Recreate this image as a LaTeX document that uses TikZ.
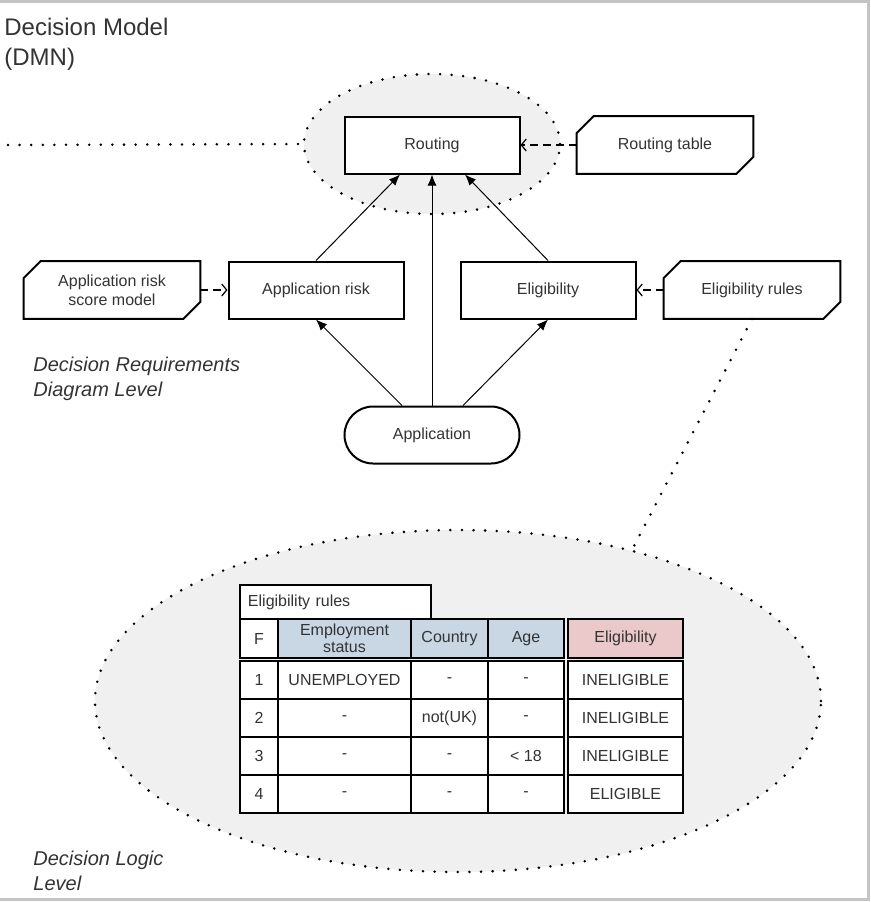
\documentclass[tikz,border=0pt]{standalone}
\usepackage{fontspec}
\setmainfont{Liberation Sans}
\usetikzlibrary{positioning,shapes.geometric,calc,arrows.meta}

\definecolor{lvlfill}{HTML}{F0F0F0}
\definecolor{inhead}{HTML}{C9D7E5}
\definecolor{outhead}{HTML}{EBC9CA}
\definecolor{txt}{HTML}{333333}
\definecolor{framegray}{HTML}{C4C4C4}

\tikzset{
  decision/.style={draw,line width=1pt,fill=white,minimum width=87.5pt,minimum height=28.5pt,inner sep=0pt,font=\fontsize{8}{9.6}\selectfont,text=txt,align=center},
  knowledge/.style={minimum width=88pt,minimum height=28.5pt,inner sep=0pt,font=\fontsize{8}{9.6}\selectfont,text=txt,align=center},
  inputdata/.style={decision,rounded corners=14.25pt},
  req/.style={-{Latex[length=5.5pt,width=4.5pt]},line width=0.5pt},
  kreq/.style={-{Straight Barb[length=2.5pt,width=6pt]},dash pattern=on 4pt off 2.5pt,line width=0.6pt},
  level/.style={draw,ellipse,fill=lvlfill,line width=1.4pt,line cap=round,dash pattern=on 0pt off 5.8pt,inner sep=0pt},
  dotline/.style={line width=1.4pt,line cap=round,dash pattern=on 0pt off 5.8pt},
  cell/.style={draw,line width=0.8pt,fill=white,minimum height=19pt,inner sep=0pt,font=\fontsize{8}{8.5}\selectfont,text=txt,align=center},
  levellabel/.style={anchor=north west,inner sep=0pt,align=left,text=txt,font=\fontsize{10}{12.5}\selectfont\itshape}
}

\begin{document}
\begin{tikzpicture}[x=0.5pt,y=-0.5pt,node distance=72.5pt]
    \useasboundingbox (0,0) rectangle (871,902);
    \draw[framegray,line width=1.5pt] (0,1) -- (868,1) -- (868,899) -- (0,899);

    \node[anchor=north west,inner sep=0pt,align=left,text=txt,font=\fontsize{12}{15}\selectfont] (title) at (4,18) {Decision Model\\(DMN)};

    % levels
    \node[level,minimum width=128pt,minimum height=70pt] (drl) at (432,144) {};
    \node[level,minimum width=363pt,minimum height=171pt] (dll) at (458,701) {};
    \coordinate (drlend) at (8,145);
    \draw[dotline] (drlend) -- (drl.west);

    \node[decision] (routing) at (432,145) {Routing};
    \node[decision,below of = routing,xshift=-58pt] (apprisk) {Application risk};
    \node[decision,below of = routing,xshift=58pt] (elig) {Eligibility};
    \node[inputdata,below of = routing,yshift=-72.5pt] (app) {Application};

    \node[knowledge,right of = routing,xshift=44pt] (rtable) {Routing table};
    \node[knowledge,left of = apprisk,xshift=-29.5pt] (riskmodel) {Application risk\\score model};
    \node[knowledge,right of = elig,xshift=29.5pt] (eligrules) {Eligibility rules};

    \foreach \k in {rtable,riskmodel,eligrules}
        \draw[line width=1pt] ($(\k.north west)+(0,17)$) -- ($(\k.north west)+(17,0)$) -- (\k.north east)
            -- ($(\k.south east)+(0,-17)$) -- ($(\k.south east)+(-17,0)$) -- (\k.south west) -- cycle;

    \draw[req] ($(app.north)+(-30,0)$) -- (apprisk.south);
    \draw[req] (app.north) -- (routing.south);
    \draw[req] ($(app.north)+(31,0)$) -- (elig.south);
    \draw[req] (apprisk.north) -- ($(routing.south)+(-32,0)$);
    \draw[req] (elig.north) -- ($(routing.south)+(33,0)$);

    \draw[kreq] (rtable.west) -- (routing.east);
    \draw[kreq] (riskmodel.east) -- (apprisk.west);
    \draw[kreq] (eligrules.west) -- (elig.east);

    \draw[dotline] (eligrules.south) -- (dll.41);

    \node[levellabel] (drllabel) at (33,357) {Decision Requirements\\Diagram Level};
    \node[levellabel] (dlllabel) at (33,851) {Decision Logic\\Level};

    % decision table
    \node[cell,minimum width=95.5pt,minimum height=17pt,text width=87.5pt,inner xsep=4pt,align=left] (ttitle) at (335.5,602) {Eligibility rules};
    \node[cell,minimum width=19pt,minimum height=19.5pt] (hf) at (259,638.5) {F};
    \node[cell,fill=inhead,minimum width=66.5pt,minimum height=19.5pt] (hemp) at (344.5,638.5) {Employment\\status};
    \node[cell,fill=inhead,minimum width=38.5pt,minimum height=19.5pt] (hcty) at (449.5,638.5) {Country};
    \node[cell,fill=inhead,minimum width=38pt,minimum height=19.5pt] (hage) at (526,638.5) {Age};
    \node[cell,fill=outhead,minimum width=57.5pt,minimum height=19.5pt] (hres) at (625.5,638.5) {Eligibility};

    \foreach \r/\emp/\cty/\age/\res [evaluate=\r as \y using 642+38*\r] in
        {1/UNEMPLOYED/-/-/INELIGIBLE, 2/-/not(UK)/-/INELIGIBLE, 3/-/-/{< 18}/INELIGIBLE, 4/-/-/-/ELIGIBLE}
    {
        \node[cell,minimum width=19pt] (f\r) at (259,\y) {\r};
        \node[cell,minimum width=66.5pt] (emp\r) at (344.5,\y) {\emp};
        \node[cell,minimum width=38.5pt] (cty\r) at (449.5,\y) {\cty};
        \node[cell,minimum width=38pt] (age\r) at (526,\y) {\age};
        \node[cell,minimum width=57.5pt] (res\r) at (625.5,\y) {\res};
    }
\end{tikzpicture}
\end{document}
